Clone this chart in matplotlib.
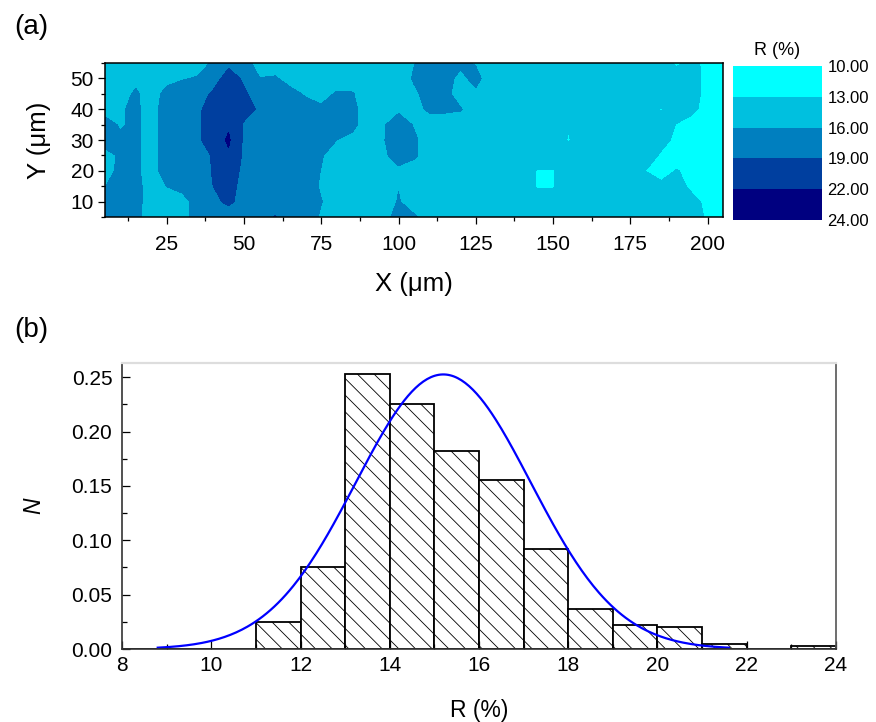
import numpy as np
import matplotlib
matplotlib.use("Agg")
import matplotlib.pyplot as plt
from matplotlib.ticker import MultipleLocator, FormatStrFormatter

plt.rcParams["font.family"] = ["Liberation Sans", "DejaVu Sans"]
plt.rcParams["hatch.linewidth"] = 0.6

# (a) reflectance map R(x, y); one list per x column, values for y = 5, 10, ..., 55
x_um = list(range(5, 210, 5))
y_um = list(range(5, 60, 5))
r_cols = [
    [17.5, 17.5, 15.9, 14.5, 14.8, 17.5, 17.0, 15.0, 14.5, 14.5, 14.5],  # x=5
    [17.5, 17.5, 17.5, 17.0, 16.5, 16.5, 15.7, 15.7, 15.0, 14.5, 14.5],
    [16.8, 17.0, 17.0, 16.6, 16.6, 16.6, 16.6, 16.6, 16.4, 15.3, 14.5],
    [14.5, 14.5, 14.5, 14.5, 14.5, 14.5, 14.5, 14.5, 14.5, 14.5, 14.5],
    [14.5, 14.5, 16.05, 17.6, 17.8, 17.8, 17.8, 17.8, 17.0, 15.0, 14.5],
    [14.5, 15.0, 16.8, 17.5, 17.5, 17.5, 17.5, 17.5, 17.5, 15.8, 14.5],  # x=30
    [17.5, 17.0, 17.5, 17.5, 17.5, 18.5, 18.5, 18.5, 17.5, 16.2, 15.0],
    [17.5, 18.0, 19.0, 19.2, 19.3, 20.5, 20.5, 20.3, 19.5, 17.5, 16.3],
    [17.0, 19.8, 20.3, 20.5, 21.6, 22.4, 21.6, 21.0, 21.0, 20.5, 18.2],
    [17.5, 17.5, 17.8, 18.3, 18.5, 18.5, 18.6, 20.3, 19.5, 18.5, 17.0],
    [17.5, 17.5, 17.5, 17.5, 17.5, 17.5, 17.5, 18.5, 17.5, 16.05, 15.0],  # x=55
    [19.15, 17.5, 17.5, 17.5, 17.5, 17.5, 17.5, 17.5, 17.5, 16.3, 14.5],
    [17.5, 17.5, 17.5, 17.5, 17.5, 17.5, 17.5, 17.5, 16.8, 15.0, 14.5],
    [17.5, 17.5, 17.5, 17.5, 17.5, 17.5, 17.5, 17.0, 15.7, 14.5, 14.5],
    [15.6, 16.1, 15.6, 15.9, 16.2, 17.0, 17.5, 16.5, 15.0, 14.5, 14.5],
    [14.5, 14.5, 14.5, 14.5, 14.8, 16.0, 17.5, 17.5, 16.3, 14.5, 14.5],  # x=80
    [14.5, 14.5, 14.5, 14.5, 14.5, 15.2, 16.8, 16.8, 16.2, 14.5, 14.5],
    [14.5, 14.5, 14.5, 14.5, 14.5, 14.5, 14.5, 14.5, 14.5, 14.5, 14.5],
    [15.0, 14.5, 14.5, 14.5, 15.5, 15.8, 15.7, 14.5, 14.5, 14.5, 14.5],
    [17.0, 16.2, 15.9, 15.5, 17.0, 17.5, 17.3, 15.5, 14.5, 14.5, 14.5],
    [16.4, 14.5, 14.5, 14.5, 16.5, 16.5, 15.8, 15.0, 15.5, 16.3, 15.9],  # x=105
    [14.5, 14.5, 14.5, 14.5, 14.5, 14.5, 14.5, 16.5, 17.0, 17.5, 17.0],
    [14.5, 14.5, 14.5, 14.5, 14.5, 14.5, 14.5, 16.5, 16.8, 17.0, 17.0],
    [14.5, 14.5, 14.5, 14.5, 14.5, 14.5, 14.5, 16.2, 14.8, 15.3, 16.5],
    [14.5, 14.5, 14.5, 14.5, 14.5, 14.5, 14.5, 14.5, 15.5, 16.8, 15.8],
    [14.5, 14.5, 14.5, 14.5, 14.5, 14.5, 14.5, 14.5, 14.5, 14.5, 15.5],  # x=130
    [14.5, 14.5, 14.5, 14.5, 14.5, 14.5, 14.5, 14.5, 14.5, 14.5, 14.5],
    [14.5, 14.5, 14.5, 14.5, 14.5, 14.5, 14.5, 14.5, 14.5, 14.5, 14.5],
    [14.5, 14.5, 12.7, 12.8, 14.5, 14.5, 14.5, 14.5, 14.5, 14.5, 14.5],
    [14.5, 14.5, 12.8, 12.8, 14.5, 14.5, 14.5, 14.5, 14.5, 14.5, 14.5],
    [14.5, 14.5, 14.5, 14.5, 14.5, 12.8, 13.2, 14.5, 14.5, 14.5, 14.5],  # x=155
    [14.5, 14.5, 14.5, 14.5, 14.5, 14.5, 14.5, 14.5, 14.5, 14.5, 14.5],
    [14.5, 14.5, 14.5, 14.5, 14.5, 14.5, 14.5, 14.5, 14.5, 14.5, 14.5],
    [14.5, 14.5, 14.5, 14.5, 14.5, 14.5, 14.5, 14.5, 14.5, 14.5, 14.5],
    [14.5, 14.5, 14.5, 14.5, 14.5, 14.5, 14.5, 14.5, 14.5, 14.5, 14.5],
    [14.5, 14.5, 14.5, 12.95, 14.5, 14.5, 14.5, 14.5, 14.5, 14.5, 14.5],  # x=180
    [14.5, 14.5, 13.4, 12.3, 12.6, 14.0, 14.0, 12.8, 14.5, 14.5, 14.5],
    [14.5, 14.5, 14.3, 13.1, 12.2, 12.3, 12.9, 14.2, 14.5, 14.5, 12.5],
    [14.5, 14.0, 12.2, 12.5, 12.0, 12.0, 12.0, 13.6, 14.2, 14.3, 14.0],
    [12.5, 12.2, 12.0, 12.0, 12.0, 12.0, 12.0, 12.0, 12.0, 12.0, 12.0],
    [12.0, 12.0, 12.0, 12.0, 12.0, 12.0, 12.0, 12.0, 12.0, 12.0, 12.0],  # x=205
]
r_levels = [10, 13, 16, 19, 22, 24]
r_colors = ["#00FFFF", "#00C0DF", "#007FBF", "#003F9F", "#000080"]

# (b) histogram of R, bins of width 1 starting at bin_left
bin_left = [8, 9, 10, 11, 12, 13, 14, 15, 16, 17, 18, 19, 20, 21, 22, 23]
freq = [0, 0, 0, 0.025, 0.075, 0.253, 0.225, 0.182, 0.155, 0.092,
        0.037, 0.022, 0.020, 0.005, 0, 0.003]
# gaussian fit
fit_mu, fit_sigma, fit_amp = 15.2, 1.96, 0.2525
fit_start, fit_end = 8.8, 21.6

fig = plt.figure(figsize=(8.76, 7.22), dpi=100)

# ---- (a) contour map
ax1 = fig.add_axes([0.1199, 0.6994, 0.7054, 0.2133])
Z = np.array(r_cols).T
cs = ax1.contourf(x_um, y_um, Z, levels=r_levels, colors=r_colors)
ax1.set_xlim(5, 205)
ax1.set_ylim(5, 55)
ax1.xaxis.set_major_locator(MultipleLocator(25))
ax1.xaxis.set_minor_locator(MultipleLocator(12.5))
ax1.yaxis.set_major_locator(MultipleLocator(10))
ax1.yaxis.set_minor_locator(MultipleLocator(5))
ax1.tick_params(which="major", direction="out", length=5, width=0.9, labelsize=15)
ax1.tick_params(which="minor", direction="out", length=3.2, width=0.9)
ax1.tick_params(axis="x", pad=8)
ax1.tick_params(axis="y", pad=3)
for sp in ax1.spines.values():
    sp.set_linewidth(1.1)
ax1.set_xlabel("X (μm)", fontsize=18.5, labelpad=13)
ax1.set_ylabel("Y (μm)", fontsize=18.5, labelpad=14)

cax = fig.add_axes([0.8368, 0.6953, 0.1016, 0.2133])
cb = fig.colorbar(cs, cax=cax, spacing="uniform", ticks=r_levels)
cax.invert_yaxis()
cb.outline.set_visible(False)
cax.yaxis.set_major_formatter(FormatStrFormatter("%.2f"))
cax.tick_params(length=0, labelsize=12, pad=4)
cax.set_title("R (%)", fontsize=13, pad=8)

fig.text(0.016, 0.962, "(a)", fontsize=20, va="center")

# ---- (b) histogram with fit
ax2 = fig.add_axes([0.1393, 0.1011, 0.815, 0.3961])
ax2.bar(bin_left, freq, width=1, align="edge", facecolor="white",
        edgecolor="black", linewidth=1.3, hatch="\\\\")
xf = np.linspace(fit_start, fit_end, 300)
ax2.plot(xf, fit_amp * np.exp(-(xf - fit_mu) ** 2 / (2 * fit_sigma ** 2)),
         color="#0000FF", linewidth=1.6)
ax2.set_xlim(8, 24)
ax2.set_ylim(0, 0.263)
ax2.xaxis.set_major_locator(MultipleLocator(2))
ax2.xaxis.set_minor_locator(MultipleLocator(1))
ax2.yaxis.set_major_locator(MultipleLocator(0.05))
ax2.yaxis.set_minor_locator(MultipleLocator(0.025))
ax2.yaxis.set_major_formatter(FormatStrFormatter("%.2f"))
ax2.tick_params(which="major", direction="in", length=6, width=0.9, labelsize=15)
ax2.tick_params(which="minor", direction="in", length=3.5, width=0.9)
ax2.tick_params(axis="x", pad=5)
ax2.tick_params(axis="y", pad=7)
ax2.spines["left"].set_color("#333333")
ax2.spines["bottom"].set_color("#333333")
ax2.spines["right"].set_color("#555555")
ax2.spines["top"].set_color("#dddddd")
for sp in ax2.spines.values():
    sp.set_linewidth(1.2)
ax2.spines["top"].set_linewidth(1.6)
ax2.set_xlabel("R (%)", fontsize=16.5, labelpad=17)
ax2.set_ylabel("N", fontsize=16.5, style="italic", labelpad=19)

fig.text(0.016, 0.543, "(b)", fontsize=20, va="center")

fig.savefig("out.png", dpi=100)
